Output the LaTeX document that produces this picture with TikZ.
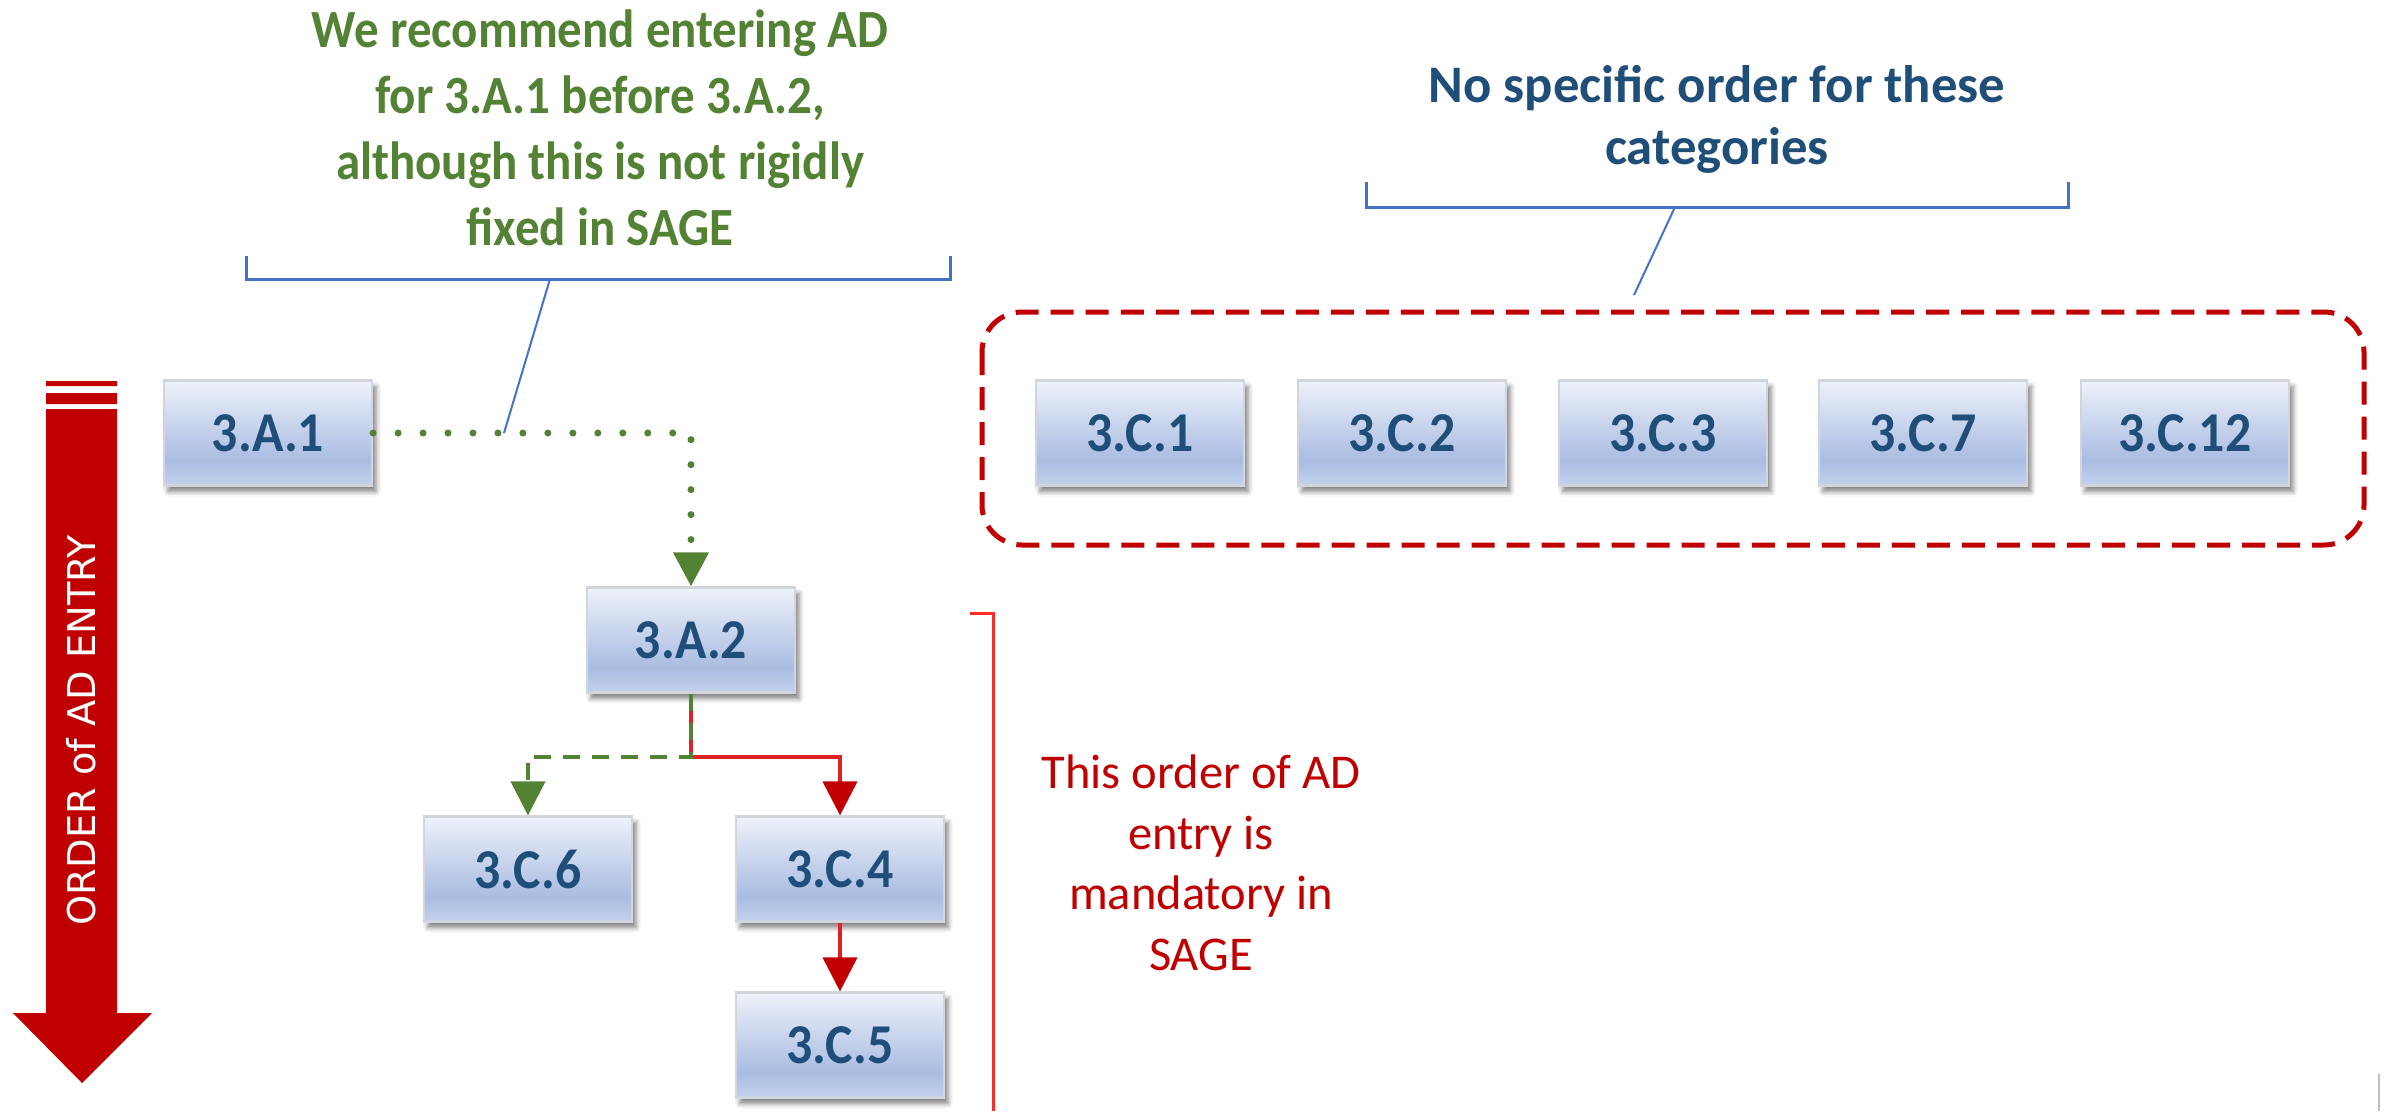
\documentclass[tikz,border=0pt]{standalone}
\usepackage{fontspec}
\setmainfont{Carlito}
\newfontfamily\verdfont{DejaVu Sans}
\newfontfamily\labelfont[FakeStretch=0.92]{Carlito}
\newfontfamily\notefont[FakeStretch=0.91]{Carlito}
\usetikzlibrary{arrows.meta,shadows.blur}

\definecolor{labelblue}{HTML}{1F4E79}
\definecolor{notegreen}{HTML}{548235}
\definecolor{arrowred}{HTML}{C00000}
\definecolor{linered}{HTML}{E2202A}
\definecolor{brackred}{HTML}{FF2A2A}
\definecolor{brackblue}{HTML}{4472C4}
\definecolor{boxedge}{HTML}{D2D6DC}
\definecolor{shtop}{HTML}{EEF2FA}
\definecolor{shmid}{HTML}{A9BCE2}
\definecolor{shbot}{HTML}{C3D1EC}
\pgfdeclareverticalshading{boxshade}{100bp}{color(0bp)=(shbot); color(25bp)=(shbot); color(37bp)=(shmid); color(75bp)=(shtop); color(100bp)=(shtop)}

\begin{document}
\begin{tikzpicture}[x=0.01cm, y=-0.01cm]
\useasboundingbox (0,0) rectangle (2390,1111);
\tikzstyle{catbox}=[draw=boxedge, line width=0.6pt, shade, shading=boxshade, minimum width=2.08cm, minimum height=1.05cm, inner sep=0pt, text=labelblue, font=\labelfont\bfseries\fontsize{16}{18}\selectfont, blur shadow={shadow xshift=0.04cm, shadow yshift=-0.06cm, shadow blur radius=0.05cm, shadow opacity=50}]
\tikzstyle{dotlink}=[notegreen, line width=2pt, line cap=round, dash pattern=on 0pt off 7.1pt, -{Triangle[length=0.34cm,width=0.34cm]}]
\tikzstyle{optlink}=[notegreen, line width=0.04cm, dash pattern=on 0.17cm off 0.12cm, -{Triangle[length=0.34cm,width=0.34cm]}]
\tikzstyle{mandlink}=[linered, line width=0.04cm, -{Triangle[length=0.34cm,width=0.34cm,color=arrowred]}]
\tikzstyle{bluebrack}=[brackblue, line width=0.03cm]

% order arrow
\fill[arrowred] (46,381) rectangle (117,386) (46,393) rectangle (117,404);
\fill[arrowred] (46,409) -- (117,409) -- (117,1013) -- (152,1013) -- (82,1083) -- (13,1013) -- (46,1013) -- cycle;
\node[font=\verdfont\fontsize{10.9}{13}\selectfont, text=white, rotate=90] (ordertext) at (81.5,730) {ORDER of AD ENTRY};

\node [catbox] (a1) at (268,433) {3.A.1};
\node [catbox] (a2) at (691,640) {3.A.2};
\node [catbox] (c6) at (528,869) {3.C.6};
\node [catbox] (c4) at (840,869) {3.C.4};
\node [catbox] (c5) at (840,1045) {3.C.5};
\node [catbox] (c1) at (1140,433) {3.C.1};
\node [catbox] (c2) at (1402,433) {3.C.2};
\node [catbox] (c3) at (1663,433) {3.C.3};
\node [catbox] (c7) at (1923,433) {3.C.7};
\node [catbox] (c12) at (2185,433) {3.C.12};

\coordinate (split) at (691,757);
\draw[dotlink] (a1.east) -| (a2.north);
\draw[mandlink] (a2.south) -- (split) -| (c4.north);
\draw[optlink] (a2.south) -- (split) -| (c6.north);
\draw[mandlink] (c4.south) -- (c5.north);

% notes and brackets
\node[font=\notefont\bfseries\fontsize{15.3}{18.8}\selectfont, text=notegreen, align=center] (recnote) at (600,128) {We recommend entering AD\\for 3.A.1 before 3.A.2,\\although this is not rigidly\\fixed in SAGE};
\draw[bluebrack] (246,256) -- (246,279) -- (950,279) -- (950,256);
\coordinate (recfoot) at (550,279);
\coordinate (rectip) at (504,433);
\draw[brackblue, line width=0.02cm] (recfoot) -- (rectip);

\node[font=\bfseries\fontsize{15}{17.6}\selectfont, text=labelblue, align=center] (anynote) at (1717,119) {No specific order for these\\categories};
\draw[bluebrack] (1366,182) -- (1366,207) -- (2068,207) -- (2068,182);
\coordinate (anyfoot) at (1675,207);
\coordinate (anytip) at (1634,295);
\draw[brackblue, line width=0.02cm] (anyfoot) -- (anytip);
\draw[arrowred, line width=0.05cm, dash pattern=on 0.23cm off 0.12cm, rounded corners=0.4cm] (982,312) rectangle (2364,545);

\node[font=\fontsize{13.8}{17.2}\selectfont, text=arrowred, align=center] (mandnote) at (1201,863) {This order of AD\\entry is\\mandatory in\\SAGE};
\draw[brackred, line width=0.03cm] (970,613) -- (993,613) -- (993,1111);

\draw[gray!50, line width=0.02cm] (2379,1074) -- (2379,1111);
\end{tikzpicture}
\end{document}
